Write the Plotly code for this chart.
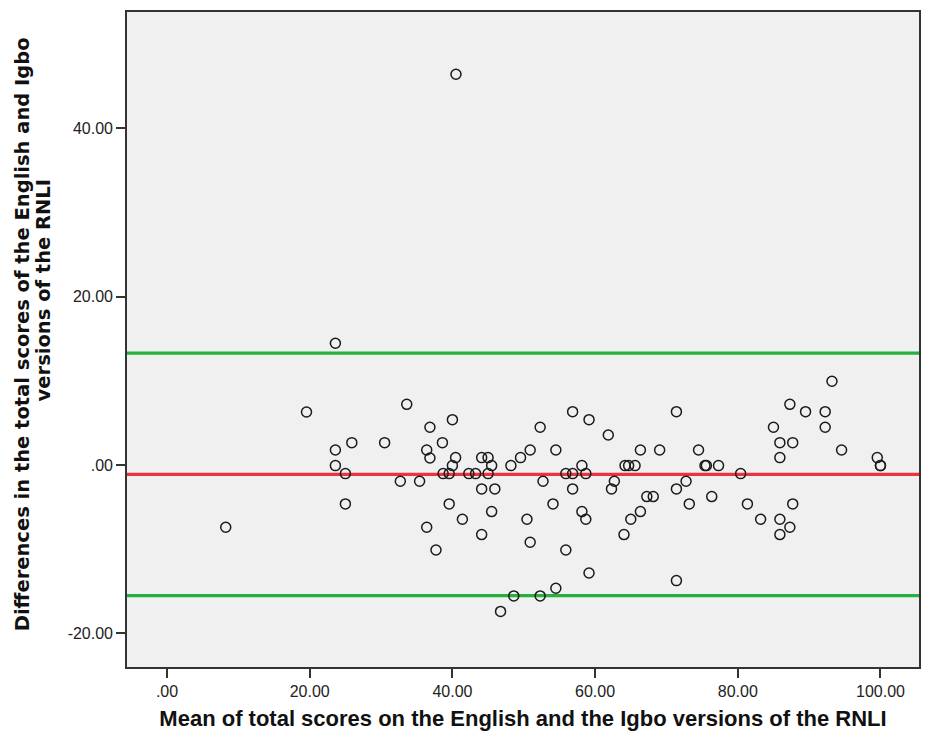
import plotly.graph_objects as go

# Bland-Altman data: mean of totals (x) and difference (y)
mean_scores = [
    8.23, 19.55, 23.6, 23.6, 23.6, 25.0, 25.0, 25.9, 30.5, 32.7,
    33.6, 35.4, 36.4, 36.4, 36.85, 36.85, 37.7, 38.6, 38.7, 39.55,
    39.55, 40.0, 40.0, 40.45, 40.5, 41.4, 42.3, 43.25, 44.1, 44.1,
    44.1, 45.0, 45.0, 45.5, 45.5, 45.95, 46.75, 48.2, 48.6, 49.55,
    50.45, 50.9, 50.9, 52.3, 52.3, 52.7, 54.1, 54.5, 54.5, 55.9,
    55.9, 56.85, 56.85, 56.85, 58.15, 58.15, 58.7, 58.7, 59.15, 59.15,
    61.85, 62.3, 62.7, 64.05, 64.2, 64.7, 65.0, 65.6, 66.35, 66.35,
    67.25, 68.15, 69.05, 71.4, 71.4, 71.4, 72.75, 73.2, 74.5, 75.4,
    75.6, 76.35, 77.3, 80.4, 81.35, 83.2, 85.0, 85.9, 85.9, 85.9,
    85.9, 87.3, 87.3, 87.7, 87.7, 89.5, 92.25, 92.25, 93.2, 94.55,
    99.55, 100.0, 100.0,
]
differences = [
    -7.4, 6.29, 14.45, 1.78, -0.08, -1.03, -4.63, 2.65, 2.65, -1.94,
    7.2, -1.94, 1.78, -7.4, 4.48, 0.83, -10.1, 2.65, -1.03, -1.03,
    -4.63, 5.38, -0.08, 0.87, 46.4, -6.45, -1.03, -1.03, 0.87, -2.85,
    -8.27, 0.87, -1.03, -0.08, -5.54, -2.85, -17.4, -0.08, -15.56, 0.87,
    -6.45, 1.78, -9.18, 4.48, -15.56, -1.94, -4.63, 1.78, -14.65, -1.03,
    -10.1, -1.03, 6.33, -2.85, -0.08, -5.54, -1.03, -6.45, 5.38, -12.83,
    3.56, -2.85, -1.94, -8.27, -0.08, -0.08, -6.45, -0.08, 1.78, -5.54,
    -3.76, -3.76, 1.78, 6.33, -2.85, -13.74, -1.94, -4.63, 1.78, -0.08,
    -0.08, -3.76, -0.08, -1.03, -4.63, -6.45, 4.48, 2.65, 0.87, -6.45,
    -8.27, 7.2, -7.4, 2.65, -4.63, 6.33, 6.33, 4.48, 9.94, 1.78,
    0.87, -0.08, -0.08,
]

mean_difference = -1.12
upper_limit = 13.27
lower_limit = -15.52

x_ticks = [0, 20, 40, 60, 80, 100]
x_tick_labels = [".00", "20.00", "40.00", "60.00", "80.00", "100.00"]
y_ticks = [-20, 0, 20, 40]
y_tick_labels = ["-20.00", ".00", "20.00", "40.00"]

x_title = "Mean of total scores on the English and the Igbo versions of the RNLI"
y_title_lines = ["Differences in the total scores of the English and Igbo",
                 "versions of the RNLI"]

fig = go.Figure()

for val, col in [(upper_limit, "#27b040"), (lower_limit, "#27b040"), (mean_difference, "#ee3340")]:
    fig.add_shape(type="line", xref="paper", x0=0, x1=1, yref="y", y0=val, y1=val,
                  line=dict(color=col, width=3.2), layer="below")

fig.add_trace(go.Scatter(
    x=mean_scores, y=differences, mode="markers",
    marker=dict(symbol="circle-open", size=10, color="#1a1a1a", line=dict(width=1.5)),
    showlegend=False, hoverinfo="x+y",
))

font_family = "Liberation Sans, Arial, sans-serif"
title_family = "DejaVu Sans, Verdana, sans-serif"

title_line_pos = [(-105, 0.508), (-84, 0.575)]
for line, (xs, yc) in zip(y_title_lines, title_line_pos):
    fig.add_annotation(
        text=line, textangle=-90, showarrow=False,
        xref="paper", x=0, xanchor="center", xshift=xs,
        yref="paper", y=yc, yanchor="middle",
        font=dict(size=19.5, family=title_family, color="#111111", weight="bold"),
    )

fig.update_layout(
    width=925, height=740,
    margin=dict(l=127, r=6, t=12, b=73),
    paper_bgcolor="white",
    plot_bgcolor="#f0f0f0",
    font=dict(family=font_family, color="#222222"),
    xaxis=dict(
        range=[-5.61, 105.4], tickvals=x_ticks, ticktext=x_tick_labels,
        showgrid=False, zeroline=False, showline=True, mirror=True,
        linecolor="#333333", linewidth=1.6, automargin=False,
        ticks="outside", ticklen=9, tickwidth=1.6, tickcolor="#333333",
        tickfont=dict(size=16, family=font_family, color="#222222"),
        title=dict(text=x_title, font=dict(size=22, family=font_family, color="#111111", weight="bold"),
                   standoff=12),
    ),
    yaxis=dict(
        range=[-24.0, 53.8], tickvals=y_ticks, ticktext=y_tick_labels,
        showgrid=False, zeroline=False, showline=True, mirror=True,
        linecolor="#333333", linewidth=1.6, automargin=False,
        ticks="outside", ticklen=9, tickwidth=1.6, tickcolor="#333333",
        tickfont=dict(size=16, family=font_family, color="#222222"),
    ),
)

fig.write_html("out.html", config={"displayModeBar": False},
               post_script="document.body.style.margin='0';")
